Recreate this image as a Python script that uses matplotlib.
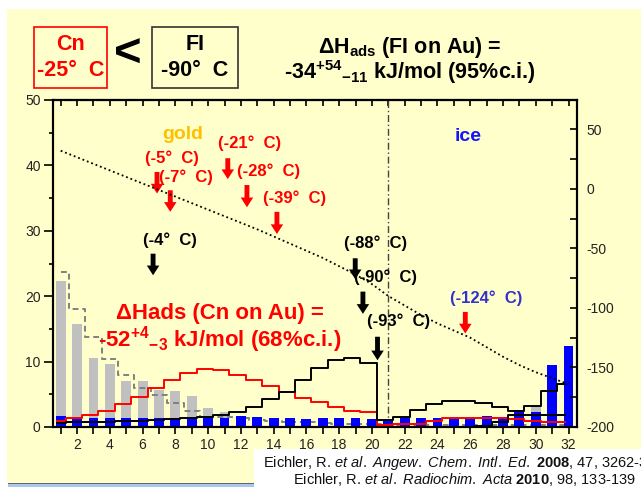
import numpy as np
import matplotlib
matplotlib.use("Agg")
import matplotlib.pyplot as plt
from matplotlib.patches import Rectangle
from matplotlib.ticker import MultipleLocator

plt.rcParams["font.family"] = ["Liberation Sans", "DejaVu Sans"]
plt.rcParams["mathtext.fontset"] = "custom"
plt.rcParams["mathtext.rm"] = "Liberation Sans"
plt.rcParams["mathtext.it"] = "Liberation Sans:italic"
plt.rcParams["mathtext.bf"] = "Liberation Sans:bold"
plt.rcParams["mathtext.default"] = "regular"
plt.rcParams["axes.unicode_minus"] = False

# --- data: deposition per detector (%), detectors 1..32 ---
detectors = np.arange(1, 33)
cn_exp = [22.3, 15.7, 10.5, 9.7, 7.1, 7.0, 5.7, 5.5, 4.7, 2.9, 2.3, 1.2, 1.0, 0.9, 0.8, 0.7,
          0.7, 0.6, 0.6, 0.6, 0.5, 0.5, 0.5, 0.5, 0.6, 0.7, 0.8, 1.0, 1.5, 3.0, 1.0, 1.0]
fl_exp = [1.7, 1.6, 1.35, 1.35, 1.35, 1.35, 1.35, 1.35, 1.35, 1.35, 1.3, 1.65, 1.5, 1.3, 1.3, 1.2,
          1.3, 1.3, 1.3, 1.2, 0.9, 1.3, 1.45, 1.45, 1.4, 1.4, 1.7, 1.6, 2.55, 2.3, 9.55, 12.35]
cn_model = [23.7, 18.0, 13.8, 10.4, 8.0, 6.0, 4.85, 3.6, 2.5, 1.6, 1.5, 1.3, 1.1, 0.9, 0.8, 0.7,
            0.6, 0.5, 0.5, 0.4, 0.4, 0.3, 0.3, 0.3, 0.3, 0.3, 0.3, 0.3, 0.3, 0.3, 0.3, 0.3]
fl_model_red = [0.9, 1.35, 1.8, 2.4, 3.5, 4.6, 6.0, 7.25, 8.2, 8.8, 8.7, 7.9, 7.2, 6.2, 5.4, 4.4,
                3.8, 3.0, 2.45, 2.3, 0.3, 0.4, 0.5, 0.9, 1.3, 1.45, 1.45, 1.3, 1.15, 0.95, 0.8, 0.75]
fl_model_black = [0.65, 0.7, 0.75, 0.8, 0.85, 0.95, 1.05, 1.15, 1.3, 1.5, 1.85, 2.3, 3.05, 4.3, 5.4, 7.15,
                  9.05, 10.3, 10.6, 9.8, 1.0, 1.6, 2.55, 3.5, 4.0, 4.0, 3.6, 3.05, 2.4, 3.2, 5.5, 6.6]
ice_cols = np.arange(25, 33)
fl_model_ice = [0.0, 0.05, 0.15, 0.77, 1.8, 1.8, 1.8, 1.8]

# temperature gradient along the detector array (deg C)
temperature = [32, 26.5, 21, 15.5, 10, 4.5, -1, -6.5, -12, -17.5, -23, -28.5, -34, -40, -46, -52,
               -58, -65, -72, -80, -90, -98, -106, -113, -119, -125, -133, -141, -148, -154, -159, -164]

# deposition temperatures marked with arrows
gold_labels = ["(-5°  C)", "(-7°  C)", "(-21°  C)", "(-28°  C)", "(-39°  C)"]
black_labels = ["(-4°  C)", "(-88°  C)", "(-90°  C)", "(-93°  C)"]
ice_label = "(-124°  C)"

yellow = "#FFFFCC"
fig = plt.figure(figsize=(6.41, 4.87), dpi=100, facecolor="white")
W, H = 641.0, 487.0


def fx(px):
    return px / W


def fy(py):
    return 1 - py / H


# slide background
fig.patches.append(Rectangle((fx(7), fy(483)), fx(634), 474 / H, transform=fig.transFigure,
                             facecolor=yellow, edgecolor="none", zorder=-10))
fig.patches.append(Rectangle((fx(8), 0), fx(247), 3 / H, transform=fig.transFigure,
                             facecolor="#A9C6EE", edgecolor="none", zorder=-10))
fig.patches.append(Rectangle((fx(8), 3 / H), fx(247), 1.5 / H, transform=fig.transFigure,
                             facecolor="#666666", edgecolor="none", zorder=-10))

ax = fig.add_axes([fx(52.5), 60 / H, fx(524.2), 327 / H])
ax.set_facecolor("none")
ax.set_xlim(0.5, 32.5)
ax.set_ylim(0, 50)

ax.bar(detectors, cn_exp, width=0.6, color="#C0C0C0", zorder=1)
ax.step(detectors, cn_model, where="mid", color="#808080", lw=1.4, ls=(0, (3, 2)), zorder=2)
ax.bar(detectors, fl_exp, width=0.6, color="#0000FF", zorder=3)
ax.step(detectors - 0.2, fl_model_red, where="mid", color="#FF0000", lw=1.4, zorder=4)
ax.step(detectors - 0.2, fl_model_black, where="mid", color="black", lw=1.4, zorder=5)
ax.step(ice_cols - 0.2, fl_model_ice, where="mid", color="black", lw=1.4, zorder=5)
ax.axvline(21, color="#444444", lw=1, ls=(0, (5, 2, 1, 2)), zorder=2)

ax.xaxis.set_major_locator(MultipleLocator(2))
ax.xaxis.set_minor_locator(MultipleLocator(1))
ax.yaxis.set_major_locator(MultipleLocator(10))
ax.yaxis.set_minor_locator(MultipleLocator(5))
ax.tick_params(axis="x", which="major", direction="out", length=5, width=1.2, pad=3,
               labelsize=10, labelcolor="#222222")
ax.tick_params(axis="x", which="minor", direction="out", length=5, width=1.2)
ax.tick_params(axis="y", which="major", direction="out", length=6.5, width=1.2, pad=2,
               labelsize=10, labelcolor="#222222")
ax.tick_params(axis="y", which="minor", direction="out", length=3, width=1.2)
for s in ax.spines.values():
    s.set_linewidth(1.5)

top = ax.secondary_xaxis("top")
top.xaxis.set_major_locator(MultipleLocator(1))
top.tick_params(direction="in", length=4, width=1.2, labeltop=False)
top.spines["top"].set_linewidth(1.5)

ax2 = ax.twinx()
ax2.set_ylim(-200, 74.6)
ax2.plot(detectors, temperature, color="black", lw=1.3, ls=(0, (1, 1.6)))
ax2.yaxis.set_major_locator(MultipleLocator(50))
ax2.yaxis.set_minor_locator(MultipleLocator(25))
ax2.tick_params(axis="y", which="major", direction="in", length=5, width=1.2, pad=7,
                labelsize=10, labelcolor="#222222")
ax2.tick_params(axis="y", which="minor", direction="in", length=5, width=1.2)
for s in ax2.spines.values():
    s.set_linewidth(1.5)


def arrow(x, y0, y1, color):
    ax.annotate("", xy=(x, y1), xytext=(x, y0),
                arrowprops=dict(arrowstyle="simple,head_length=0.7,head_width=0.9,tail_width=0.35",
                                fc=color, ec=color, lw=0, shrinkA=0, shrinkB=0,
                                mutation_scale=10), zorder=6)


gold_arrow_pos = [(6.88, 39.0, 35.7), (7.69, 36.2, 32.9), (11.2, 41.1, 37.9),
                  (12.37, 37.0, 33.6), (14.2, 32.9, 29.5)]
gold_label_pos = [(7.82, 41.1), (8.67, 38.2), (12.5, 43.4), (13.67, 39.1), (15.3, 35.0)]
for (x, y0, y1), (lx, ly), t in zip(gold_arrow_pos, gold_label_pos, gold_labels):
    arrow(x, y0, y1, "#FF0000")
    ax.text(lx, ly, t, color="#FF0000", fontsize=12, fontweight="bold",
            ha="center", va="center", zorder=7)

black_arrow_pos = [(6.64, 26.5, 23.2), (18.98, 25.8, 22.6), (19.45, 20.7, 17.3), (20.34, 13.8, 10.2)]
black_label_pos = [(7.64, 28.6), (20.25, 28.1), (20.8, 22.9), (21.6, 16.1)]
for (x, y0, y1), (lx, ly), t in zip(black_arrow_pos, black_label_pos, black_labels):
    arrow(x, y0, y1, "black")
    ax.text(lx, ly, t, color="black", fontsize=12, fontweight="bold",
            ha="center", va="center", zorder=7)

arrow(25.7, 17.6, 14.3, "#FF0000")
ax.text(27.0, 19.65, ice_label, color="#3333CC", fontsize=12, fontweight="bold",
        ha="center", va="center", zorder=7)

ax.text(8.46, 44.8, "gold", color="#FFC000", fontsize=14, fontweight="bold", ha="center", va="center")
ax.text(25.86, 44.4, "ice", color="#1414FF", fontsize=14, fontweight="bold", ha="center", va="center")

ax.text(10.7, 17.4, "ΔHads (Cn on Au) =", color="#FF0000", fontsize=16, fontweight="bold",
        ha="center", va="center", zorder=7)
ax.text(10.7, 13.3, "-52$^{+4}{}_{-3}$ kJ/mol (68%c.i.)", color="#FF0000", fontsize=16,
        fontweight="bold", ha="center", va="center", zorder=7)

# header
fig.patches.append(Rectangle((fx(34), fy(88)), fx(73), 61 / H, transform=fig.transFigure,
                             facecolor="none", edgecolor="#FF0000", lw=1.2))
fig.text(fx(70.5), fy(44), "Cn", color="#FF0000", fontsize=15.5, fontweight="bold", ha="center", va="center")
fig.text(fx(70.5), fy(70), "-25°  C", color="#FF0000", fontsize=15.5, fontweight="bold", ha="center", va="center")
fig.text(fx(128), fy(55), "<", color="black", fontsize=34, fontweight="bold", ha="center", va="center")
fig.patches.append(Rectangle((fx(152), fy(88)), fx(86), 61 / H, transform=fig.transFigure,
                             facecolor="none", edgecolor="#333333", lw=1.2))
fig.text(fx(195), fy(44), "FI", color="black", fontsize=15.5, fontweight="bold", ha="center", va="center")
fig.text(fx(195), fy(70), "-90°  C", color="black", fontsize=15.5, fontweight="bold", ha="center", va="center")
fig.text(fx(410), fy(47), "ΔH$_{ads}$ (FI on Au) =", color="black", fontsize=15.5, fontweight="bold",
         ha="center", va="center")
fig.text(fx(410), fy(72), "-34$^{+54}{}_{-11}$ kJ/mol (95%c.i.)", color="black", fontsize=15.5,
         fontweight="bold", ha="center", va="center")

# references
fig.patches.append(Rectangle((fx(254), 0), fx(387), 38 / H, transform=fig.transFigure,
                             facecolor="white", edgecolor="none", zorder=-5))
fig.text(fx(263), fy(463), r"Eichler, R. $\mathit{et\ al.\ Angew.\ Chem.\ Intl.\ Ed.}$ $\mathbf{2008}$, $\mathit{47}$, 3262-3266",
         fontsize=10.5, color="#111111", ha="left", va="center")
fig.text(fx(293), fy(480), r"Eichler, R. $\mathit{et\ al.\ Radiochim.\ Acta}$ $\mathbf{2010}$, $\mathit{98}$, 133-139",
         fontsize=10.5, color="#111111", ha="left", va="center")

fig.savefig("out.png", dpi=100, facecolor=fig.get_facecolor())
